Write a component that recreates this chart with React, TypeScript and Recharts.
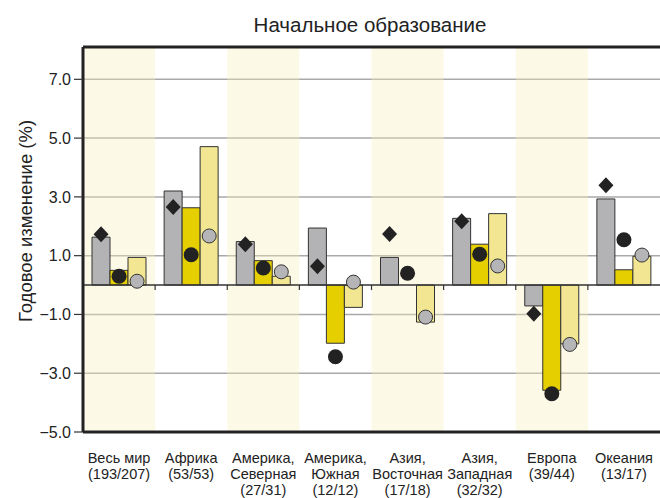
import React from 'react';
import {
  ComposedChart,
  Bar,
  Scatter,
  XAxis,
  YAxis,
  CartesianGrid,
  ReferenceArea,
  ReferenceLine,
} from 'recharts';

// regions and their label lines (number of countries in brackets)
const regions = [
  'Весь мир',
  'Африка',
  'Америка, Северная',
  'Америка, Южная',
  'Азия, Восточная',
  'Азия, Западная',
  'Европа',
  'Океания',
];
const regionLabels = [
  ['Весь мир', '(193/207)'],
  ['Африка', '(53/53)'],
  ['Америка,', 'Северная', '(27/31)'],
  ['Америка,', 'Южная', '(12/12)'],
  ['Азия,', 'Восточная', '(17/18)'],
  ['Азия,', 'Западная', '(32/32)'],
  ['Европа', '(39/44)'],
  ['Океания', '(13/17)'],
];

// bars
const grayBars = [1.63, 3.2, 1.48, 1.94, 0.94, 2.27, -0.71, 2.93];
const yellowBars = [0.5, 2.63, 0.83, -1.98, 0, 1.39, -3.58, 0.52];
const paleBars = [0.94, 4.71, 0.3, -0.76, -1.26, 2.43, -2.0, 0.98];

// markers
const diamonds = [1.73, 2.66, 1.39, 0.64, 1.74, 2.17, -0.98, 3.4];
const blackDots = [0.3, 1.03, 0.58, -2.44, 0.4, 1.05, -3.7, 1.54];
const grayDots = [0.13, 1.67, 0.45, 0.1, -1.09, 0.65, -2.02, 1.02];

const yTicks = [-5, -3, -1, 1, 3, 5, 7];
const yMin = -5;
const yMax = 8.1;

const FONT = '"Liberation Sans", Arial, sans-serif';
const BAR_W = 18;

const data = regions.map((r, i) => ({
  region: r,
  gray: grayBars[i],
  yellow: yellowBars[i],
  pale: paleBars[i],
  diamond: diamonds[i],
  black: blackDots[i],
  grayDot: grayDots[i],
}));

const fmt = (v: number) => (v < 0 ? '\u2212' + Math.abs(v).toFixed(1) : v.toFixed(1));

const RegionTick = (props: any) => {
  const { x, y, payload } = props;
  const lines = regionLabels[regions.indexOf(payload.value)] || [payload.value];
  return (
    <text x={x} y={y} textAnchor="middle" fontSize={14.5} fill="#222" fontFamily={FONT}>
      {lines.map((l, i) => (
        <tspan key={i} x={x} dy={i === 0 ? 31 : 16}>
          {l}
        </tspan>
      ))}
    </text>
  );
};

const ZeroLine = (props: any) => {
  const { x1, x2, y1 } = props;
  const step = (x2 - x1) / regions.length;
  const ticks = [];
  for (let i = 1; i < regions.length; i++) {
    const tx = x1 + step * i;
    ticks.push(<line key={i} x1={tx} x2={tx} y1={y1} y2={y1 + 5} stroke="#333" strokeWidth={1.2} />);
  }
  return (
    <g>
      <line x1={x1} x2={x2} y1={y1} y2={y1} stroke="#333" strokeWidth={1.5} />
      {ticks}
    </g>
  );
};

const Diamond = (props: any) => {
  const { cx, cy } = props;
  if (cx == null || cy == null) return null;
  const x = cx - BAR_W;
  return <path d={`M${x},${cy - 8} L${x + 7.5},${cy} L${x},${cy + 8} L${x - 7.5},${cy} Z`} fill="#222" />;
};

const BlackDot = (props: any) => {
  const { cx, cy } = props;
  if (cx == null || cy == null) return null;
  return <circle cx={cx} cy={cy} r={7.5} fill="#222" />;
};

const GrayDot = (props: any) => {
  const { cx, cy } = props;
  if (cx == null || cy == null) return null;
  return <circle cx={cx + BAR_W} cy={cy} r={7} fill="#b5b5b7" stroke="#333" strokeWidth={1} />;
};

export default function App() {
  return (
    <div style={{ position: 'absolute', left: 0, top: 0, width: 660, height: 498, background: '#fff', fontFamily: FONT }}>
      <svg style={{ position: 'absolute', left: 0, top: 0 }} width={660} height={498}>
        <text x={370} y={31.5} textAnchor="middle" fontSize={20.5} fill="#222" fontFamily={FONT}>
          Начальное образование
        </text>
        <text
          x={32}
          y={221}
          transform="rotate(-90 32 221)"
          textAnchor="middle"
          fontSize={18.5}
          fill="#222"
          fontFamily={FONT}
        >
          Годовое изменение (%)
        </text>
      </svg>
      <ComposedChart
        width={660}
        height={498}
        data={data}
        margin={{ top: 47, right: 0, bottom: 0, left: 0 }}
        barSize={BAR_W}
        barGap={0}
        style={{ position: 'absolute', left: 0, top: 0 }}
      >
        {regions
          .filter((_, i) => i % 2 === 0)
          .map((r) => (
            <ReferenceArea key={r} x1={r} x2={r} fill="#f5eebb" fillOpacity={0.35} stroke="none" />
          ))}
        <CartesianGrid vertical={false} stroke="#a9a9a9" strokeWidth={1.5} />
        <XAxis
          dataKey="region"
          interval={0}
          height={66}
          tick={<RegionTick />}
          tickLine={false}
          tickSize={0}
          tickMargin={0}
          axisLine={{ stroke: '#222', strokeWidth: 3 }}
        />
        <YAxis
          type="number"
          domain={[yMin, yMax]}
          ticks={yTicks}
          interval={0}
          width={83}
          tickFormatter={fmt}
          tick={{ fontSize: 16, fill: '#222', fontFamily: FONT }}
          tickSize={9}
          tickMargin={3}
          tickLine={{ stroke: '#333', strokeWidth: 1.2 }}
          axisLine={{ stroke: '#222', strokeWidth: 3 }}
        />
        <ReferenceLine y={yMax} stroke="#222" strokeWidth={3} />
        <Bar dataKey="gray" fill="#b3b3b5" stroke="#333" strokeWidth={1} isAnimationActive={false} />
        <Bar dataKey="yellow" fill="#e5cf00" stroke="#333" strokeWidth={1} isAnimationActive={false} />
        <Bar dataKey="pale" fill="#f2e692" stroke="#333" strokeWidth={1} isAnimationActive={false} />
        <ReferenceLine y={0} shape={<ZeroLine />} />
        <Scatter dataKey="diamond" shape={<Diamond />} isAnimationActive={false} />
        <Scatter dataKey="black" shape={<BlackDot />} isAnimationActive={false} />
        <Scatter dataKey="grayDot" shape={<GrayDot />} isAnimationActive={false} />
      </ComposedChart>
    </div>
  );
}
